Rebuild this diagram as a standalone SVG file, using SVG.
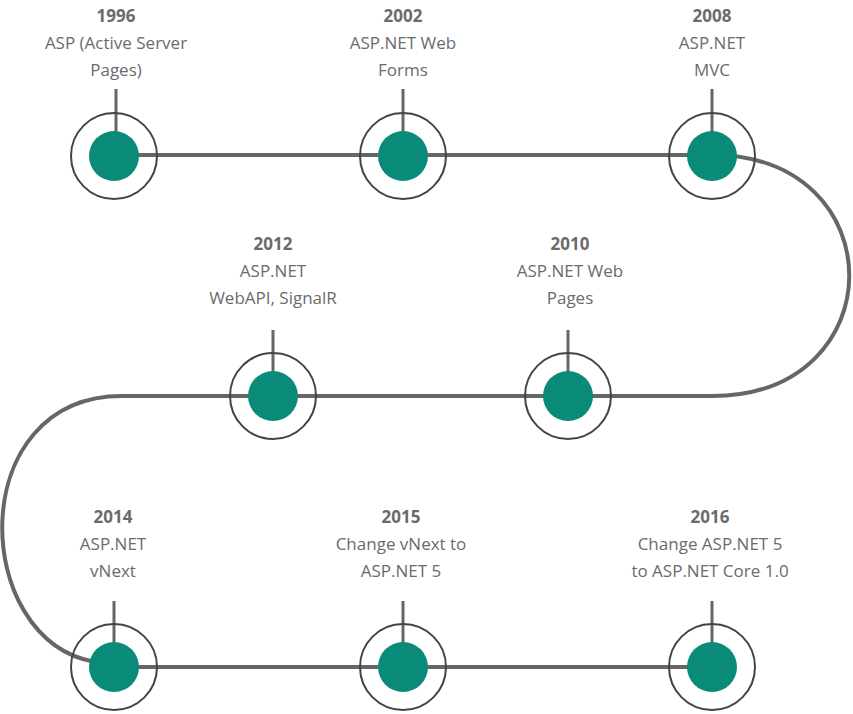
<svg xmlns="http://www.w3.org/2000/svg" width="853" height="714" viewBox="0 0 853 714">
<style>
.o{fill:none;stroke:#444;stroke-width:2}
.i{fill:#0a8a78}
.t{stroke:#666;stroke-width:3}
.c{fill:none;stroke:#666;stroke-width:4}
text{font-family:"Open Sans","DejaVu Sans",sans-serif;font-size:17px;fill:#6b6b6b;text-anchor:middle}
.y{font-weight:bold}
</style>
<rect width="853" height="714" fill="#fff"/>
<g id="connectors">
<path class="c" d="M114 155H712C895 155 895 396 712 396H122C-36 396 -30 640 95 662"/>
<path class="c" d="M114 667H712"/>
</g>
<g id="n1996"><line class="t" x1="116" y1="89" x2="116" y2="132"/><circle class="o" cx="114" cy="156" r="43"/><circle class="i" cx="114" cy="156" r="25"/><text x="116" y="22" class="y">1996</text><text x="116" y="49">ASP (Active Server</text><text x="116" y="76">Pages)</text></g>
<g id="n2002"><line class="t" x1="403" y1="89" x2="403" y2="132"/><circle class="o" cx="403" cy="156" r="43"/><circle class="i" cx="403" cy="156" r="25"/><text x="403" y="22" class="y">2002</text><text x="403" y="49">ASP.NET Web</text><text x="403" y="76">Forms</text></g>
<g id="n2008"><line class="t" x1="712" y1="89" x2="712" y2="132"/><circle class="o" cx="712" cy="156" r="43"/><circle class="i" cx="712" cy="156" r="25"/><text x="712" y="22" class="y">2008</text><text x="712" y="49">ASP.NET</text><text x="712" y="76">MVC</text></g>
<g id="n2012"><line class="t" x1="273" y1="330" x2="273" y2="373"/><circle class="o" cx="273" cy="396" r="43"/><circle class="i" cx="273" cy="396" r="25"/><text x="273" y="250" class="y">2012</text><text x="273" y="277">ASP.NET</text><text x="273" y="304">WebAPI, SignalR</text></g>
<g id="n2010"><line class="t" x1="568" y1="330" x2="568" y2="373"/><circle class="o" cx="568" cy="396" r="43"/><circle class="i" cx="568" cy="396" r="25"/><text x="570" y="250" class="y">2010</text><text x="570" y="277">ASP.NET Web</text><text x="570" y="304">Pages</text></g>
<g id="n2014"><line class="t" x1="114" y1="601" x2="114" y2="644"/><circle class="o" cx="114" cy="667" r="43"/><circle class="i" cx="114" cy="667" r="25"/><text x="113" y="523" class="y">2014</text><text x="113" y="550">ASP.NET</text><text x="113" y="577">vNext</text></g>
<g id="n2015"><line class="t" x1="403" y1="601" x2="403" y2="644"/><circle class="o" cx="403" cy="667" r="43"/><circle class="i" cx="403" cy="667" r="25"/><text x="401" y="523" class="y">2015</text><text x="401" y="550">Change vNext to</text><text x="401" y="577">ASP.NET 5</text></g>
<g id="n2016"><line class="t" x1="712" y1="601" x2="712" y2="644"/><circle class="o" cx="712" cy="667" r="43"/><circle class="i" cx="712" cy="667" r="25"/><text x="710" y="523" class="y">2016</text><text x="710" y="550">Change ASP.NET 5</text><text x="710" y="577">to ASP.NET Core 1.0</text></g>
</svg>
